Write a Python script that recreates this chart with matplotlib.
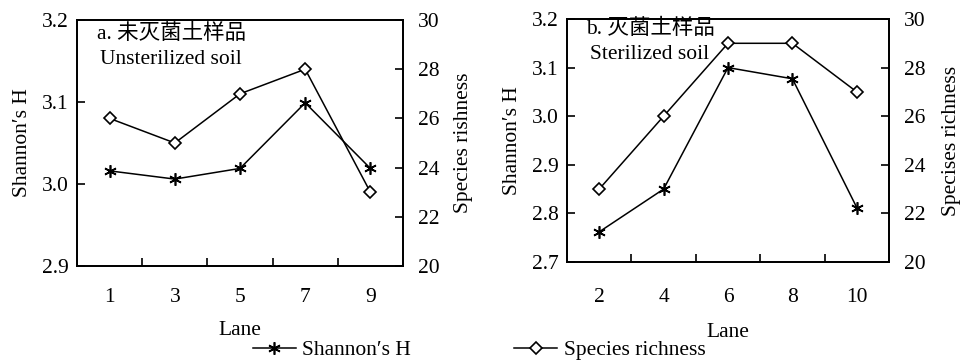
import numpy as np
import matplotlib.pyplot as plt
from matplotlib.lines import Line2D

plt.rcParams['font.family'] = ['Liberation Serif', 'DejaVu Serif', 'Noto Sans CJK SC']
plt.rcParams['font.size'] = 15.5

# data
lane_a = ["1", "3", "5", "7", "9"]
shannon_a = [3.016, 3.006, 3.019, 3.099, 3.019]
rich_a = [26, 25, 27, 28, 23]

lane_b = ["2", "4", "6", "8", "10"]
shannon_b = [2.762, 2.850, 3.100, 3.077, 2.812]
rich_b = [23, 26, 29, 29, 27]

star = (6, 2, 0)

fig = plt.figure(figsize=(9.62, 3.61), dpi=100)


def panel(rect, lanes, sh, ri, ylim, yticks, title1, title2, tpos, rlabel,
          xpad, lanepad, rpad):
    ax = fig.add_axes(rect)
    x = np.arange(1, len(lanes) + 1)
    ax.plot(x, sh, color='black', lw=1.1, marker=star, ms=9, mew=1.2)
    ax.set_xlim(0.5, len(lanes) + 0.5)
    ax.set_ylim(*ylim)
    ax.set_yticks(yticks)
    ax.set_yticklabels([f"{v:.1f}" for v in yticks])
    ax.set_xticks(x)
    ax.set_xticklabels(lanes)
    ax.set_xticks(x[:-1] + 0.5, minor=True)
    ax.tick_params(axis='x', which='major', length=0, pad=xpad)
    ax.tick_params(axis='x', which='minor', direction='in', length=6, width=1.2)
    ax.tick_params(axis='y', direction='in', length=6, width=1.2, pad=6)
    ax.set_xlabel("Lane", labelpad=lanepad)
    ax.set_ylabel("Shannon′s H", labelpad=7)
    for s in ax.spines.values():
        s.set_linewidth(1.3)

    ax2 = ax.twinx()
    ax2.plot(x, ri, color='black', lw=1.1, marker='D', ms=6.5, mfc='white', mew=1.2)
    ax2.set_ylim(20, 30)
    ax2.set_yticks(np.arange(20, 31, 2))
    ax2.tick_params(axis='y', direction='in', length=6, width=1.2, pad=11)
    ax2.set_ylabel(rlabel, labelpad=rpad)
    for s in ax2.spines.values():
        s.set_linewidth(1.3)

    ax.text(tpos[0], tpos[1], title1, transform=ax.transAxes, ha='left', va='center')
    ax.text(tpos[0] + 0.01, tpos[1] - 0.105, title2, transform=ax.transAxes, ha='left', va='center')
    return ax


panel([77 / 962, 1 - 266 / 361, 326 / 962, 246 / 361], lane_a, shannon_a, rich_a,
      (2.9, 3.2), [2.9, 3.0, 3.1, 3.2], "a. 未灭菌土样品", "Unsterilized soil",
      (0.06, 0.945), "Species rishness", 16, 10, 10)
panel([567 / 962, 1 - 262 / 361, 322 / 962, 243 / 361], lane_b, shannon_b, rich_b,
      (2.7, 3.2), [2.7, 2.8, 2.9, 3.0, 3.1, 3.2], "b. 灭菌土样品", "Sterilized soil",
      (0.06, 0.96), "Specises richness", 19, 11, 11.5)

handles = [
    Line2D([], [], color='black', lw=1.1, marker=star, ms=9, mew=1.2),
    Line2D([], [], color='black', lw=1.1, marker='D', ms=6.5, mfc='white', mew=1.2),
]
fig.legend(handles, ["Shannon′s H", "Species richness"], loc='center',
           bbox_to_anchor=(479 / 962, 1 - 350 / 361), ncol=2, frameon=False,
           handlelength=2.0, handletextpad=0.3, columnspacing=4.8,
           borderpad=0, borderaxespad=0)

fig.savefig("out.png", dpi=100)
